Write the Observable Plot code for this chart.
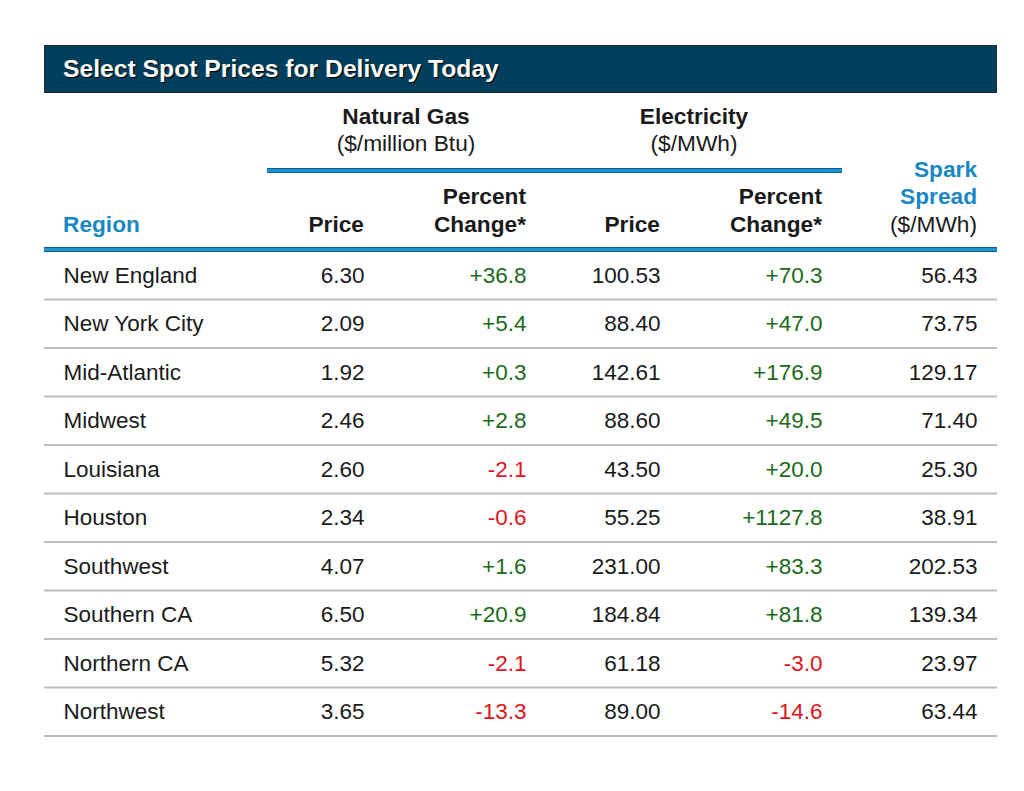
<!DOCTYPE html>
<html><head><meta charset="utf-8">
<script src="https://cdn.jsdelivr.net/npm/d3@7"></script>
<script src="https://cdn.jsdelivr.net/npm/@observablehq/plot@0.6"></script>
<style>
body{margin:0;background:#fff;font-family:"Liberation Sans",Arial,Helvetica,sans-serif;}
#wrap{position:relative;width:1024px;height:791px;overflow:hidden;background:#fff}
#chart{position:absolute;left:0;top:0}
#head{position:absolute;left:0;top:0;width:1024px;height:252px}
.t{position:absolute;white-space:nowrap;font-size:22.7px;line-height:24px;color:#1a1a1a}
.b{font-weight:bold}
.blue{color:#1a87c2}
.c{width:300px;text-align:center}
.r{text-align:right}
#bar{position:absolute;left:44px;top:45px;width:951px;height:46px;background:#023f5d;border:1px solid #1d2a33}
#title{position:absolute;left:18px;top:11px;font-size:24.7px;line-height:24px;font-weight:bold;color:#fff;text-shadow:1px 1px 1px #000;white-space:nowrap}
.line{position:absolute;background:#1e93d3;border-top:1px solid #0c5f91;border-bottom:1px solid #0c5f91}
</style></head>
<body>
<div id="wrap">
<div id="chart"></div>
<div id="head"></div>
</div>
<script>
// ---- data ----
const regions = ["New England","New York City","Mid-Atlantic","Midwest","Louisiana","Houston","Southwest","Southern CA","Northern CA","Northwest"];
const gasPrice = [6.30, 2.09, 1.92, 2.46, 2.60, 2.34, 4.07, 6.50, 5.32, 3.65];
const gasChange = [36.8, 5.4, 0.3, 2.8, -2.1, -0.6, 1.6, 20.9, -2.1, -13.3];
const elecPrice = [100.53, 88.40, 142.61, 88.60, 43.50, 55.25, 231.00, 184.84, 61.18, 89.00];
const elecChange = [70.3, 47.0, 176.9, 49.5, 20.0, 1127.8, 83.3, 81.8, -3.0, -14.6];
const sparkSpread = [56.43, 73.75, 129.17, 71.40, 25.30, 38.91, 202.53, 139.34, 23.97, 63.44];

const titleText = "Select Spot Prices for Delivery Today";
const groupLabels = [["Natural Gas","($/million Btu)"],["Electricity","($/MWh)"]];
const colLabels = {region:"Region", price:"Price", pct:["Percent","Change*"], spark:["Spark","Spread","($/MWh)"]};

// ---- layout ----
const colX = {region:63, gasPrice:364, gasChange:526, elecPrice:660, elecChange:822, spark:977};
const tableLeft = 44, tableRight = 997;
const rowTop = 252, rowBottom = 737;
const green = "#1b6a1b", red = "#e1141b", ink = "#1a1a1a";
const bodySize = 22.5;

const rows = regions.map((r,i)=>({region:r, gasPrice:gasPrice[i], gasChange:gasChange[i], elecPrice:elecPrice[i], elecChange:elecChange[i], spark:sparkSpread[i]}));
const fmt2 = d3.format(".2f");
const fmtPct = v => (v>0?"+":"") + v.toFixed(1);
const bw = (rowBottom-rowTop)/regions.length;

const textCol = (key, fmt, colorFn) => Plot.text(rows, {
  x: () => colX[key], y: "region", text: d => fmt(d[key]), textAnchor: "end",
  fill: colorFn ? d => colorFn(d[key]) : ink, fontSize: bodySize, dy: -1
});
const pctColor = v => v < 0 ? red : green;

const plot = Plot.plot({
  width: 1024, height: 791,
  marginTop: rowTop, marginBottom: 791-rowBottom, marginLeft: 0, marginRight: 0,
  style: {fontFamily: '"Liberation Sans", Arial, sans-serif', background: "transparent"},
  x: {type: "identity", axis: null},
  y: {type: "band", domain: regions, paddingInner: 0, paddingOuter: 0, round: false, axis: null},
  color: {type: "identity"},
  marks: [
    Plot.barX(regions, {y: d => d, x1: () => tableLeft, x2: () => tableRight, fill: "#bdbdbd", insetTop: bw - 2}),
    Plot.text(rows, {x: () => colX.region, y: "region", text: "region", textAnchor: "start", fill: ink, fontSize: bodySize, dy: -1}),
    textCol("gasPrice", fmt2),
    textCol("gasChange", fmtPct, pctColor),
    textCol("elecPrice", fmt2),
    textCol("elecChange", fmtPct, pctColor),
    textCol("spark", fmt2)
  ]
});
document.getElementById("chart").appendChild(plot);

// ---- header (HTML above the rows) ----
const head = document.getElementById("head");
function add(html, cls, style){ const d=document.createElement("div"); d.className="t "+cls; d.textContent=html; Object.assign(d.style, style); head.appendChild(d); return d; }
const bar = document.createElement("div"); bar.id="bar"; head.appendChild(bar);
const tt = document.createElement("div"); tt.id="title"; tt.textContent=titleText; bar.appendChild(tt);
const centerAt = (cx, cy) => ({left:(cx-150)+"px", top:(cy-12)+"px"});
const rightAt = (rx, cy) => ({right:(1024-rx)+"px", top:(cy-12)+"px"});
const groupCenters = [406, 694];
groupLabels.forEach((g,i)=>{ add(g[0],"b c",centerAt(groupCenters[i],116)); add(g[1],"c",centerAt(groupCenters[i],143)); });
const l1=document.createElement("div"); l1.className="line"; Object.assign(l1.style,{left:"267px",top:"168px",width:"575px",height:"3px"}); head.appendChild(l1);
const l2=document.createElement("div"); l2.className="line"; Object.assign(l2.style,{left:tableLeft+"px",top:"247px",width:(tableRight-tableLeft)+"px",height:"3px"}); head.appendChild(l2);
add(colLabels.region,"b blue",{left:colX.region+"px",top:(224-12)+"px"});
add(colLabels.price,"b r",rightAt(colX.gasPrice,224));
add(colLabels.pct[0],"b r",rightAt(colX.gasChange,196));
add(colLabels.pct[1],"b r",rightAt(colX.gasChange,224));
add(colLabels.price,"b r",rightAt(colX.elecPrice,224));
add(colLabels.pct[0],"b r",rightAt(colX.elecChange,196));
add(colLabels.pct[1],"b r",rightAt(colX.elecChange,224));
add(colLabels.spark[0],"b r blue",rightAt(colX.spark,169));
add(colLabels.spark[1],"b r blue",rightAt(colX.spark,196));
add(colLabels.spark[2],"r",rightAt(colX.spark,224));
</script>
</body></html>
